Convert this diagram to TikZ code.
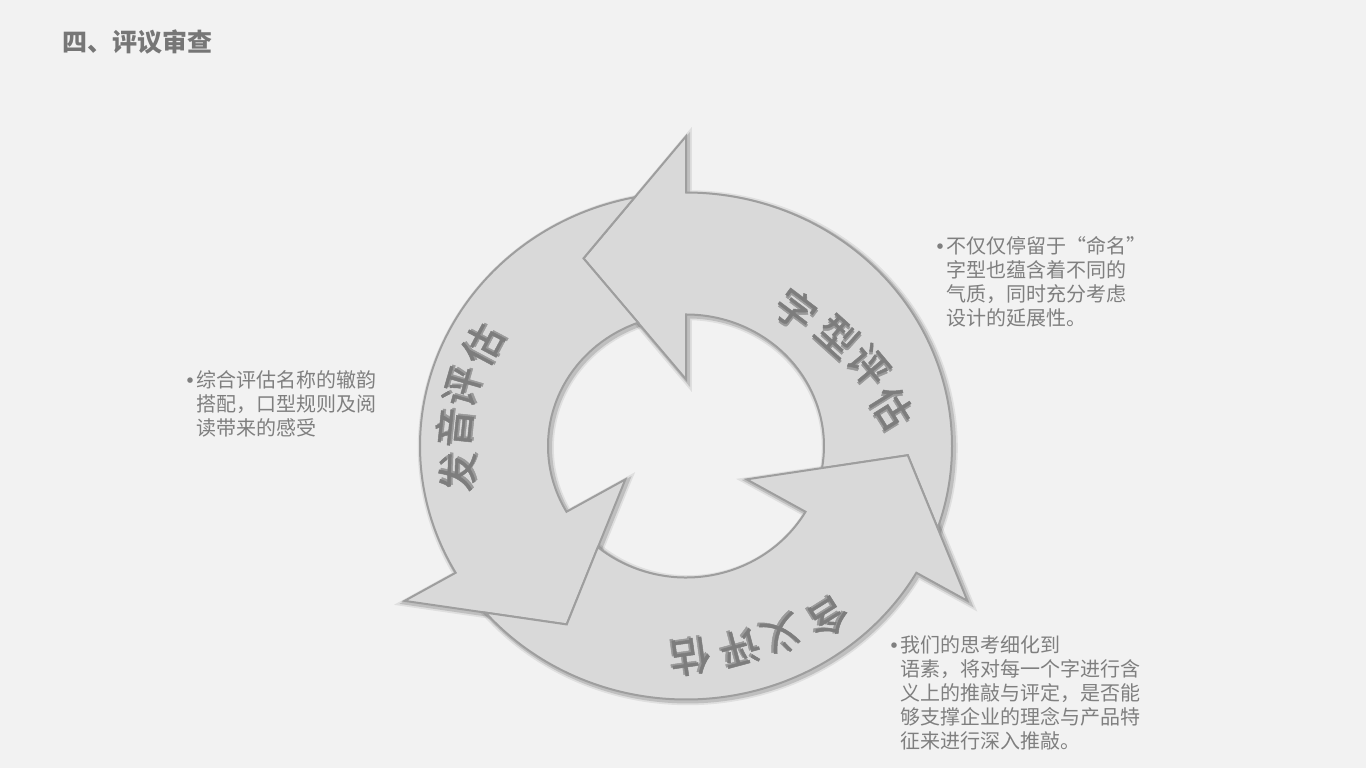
\documentclass[tikz,border=0pt]{standalone}
\usepackage{fontspec}
\setmainfont{Noto Sans CJK SC}
\newfontfamily\lblfont{Noto Sans CJK SC}[FakeBold=1.2]
\definecolor{bgc}{HTML}{F2F2F2}
\definecolor{afill}{HTML}{D9D9D9}
\definecolor{aline}{HTML}{9E9E9E}
\definecolor{txtc}{HTML}{7F7F7F}
\definecolor{titlec}{HTML}{767676}
\definecolor{lblc}{HTML}{7D7D7D}
\definecolor{shadc}{HTML}{9A9A9A}
\newcommand\drawringarrow[2]{%
  \path[#1] ({#2-108.9}:266pt) arc[start angle=#2-108.9, end angle=#2, radius=266pt]
    -- (#2:325pt) -- ({#2+27.5}:222pt) -- (#2:70pt) -- (#2:138pt)
    arc[start angle=#2, end angle=#2-99.7, radius=138pt]
    -- ({#2-92.5}:222pt) -- cycle;}
\newcommand\shchar[1]{\makebox[0pt][l]{\raisebox{-1.8pt}{\hspace{1.8pt}\textcolor{shadc}{#1}}}#1}
\newcommand\arclab[5]{%
  \node[lbl, rotate=#4] (#1) at (#2,-#3) {\shchar{#5}};}
\newcommand\bul{\leavevmode\llap{\makebox[12pt][c]{\raisebox{-3.5pt}{\fontsize{26pt}{26pt}\selectfont •}}}}
\tikzset{
  lbl/.style={inner sep=0pt, text=lblc, font=\lblfont\fontsize{40pt}{40pt}\selectfont},
  body/.style={inner sep=0pt, anchor=base west, text=txtc, font=\fontsize{20pt}{24pt}\selectfont},
  shapefill/.style={fill=afill, draw=aline, line width=2pt, line join=miter},
  glowA/.style={draw=black, opacity=0.08, line width=8pt, line join=miter},
  glowB/.style={draw=black, opacity=0.14, line width=4.5pt, line join=miter},
}
\begin{document}
\begin{tikzpicture}[x=1pt, y=1pt]
\fill[bgc] (0,0) rectangle (1366,-768);
\useasboundingbox (0,0) rectangle (1366,-768);

\node[anchor=base west, inner sep=0pt, text=titlec, font=\fontsize{25pt}{30pt}\selectfont\bfseries] (title) at (62,-52) {四、评议审查};

\begin{scope}[shift={(686,-446)}, yscale=0.953]
  \begin{scope}[shift={(1.8pt,-1.8pt)}]
    \drawringarrow{glowA}{90}
    \drawringarrow{glowA}{210}
    \drawringarrow{glowA}{330}
    \drawringarrow{glowB}{90}
    \drawringarrow{glowB}{210}
    \drawringarrow{glowB}{330}
  \end{scope}
  \drawringarrow{shapefill}{90}
  \drawringarrow{shapefill}{210}
  \drawringarrow{shapefill}{330}
\end{scope}

% labels on the arrows
\arclab{ta}{795}{310}{-37}{字}
\arclab{tb}{837}{336}{-42}{型}
\arclab{tc}{868}{366}{-50}{评}
\arclab{td}{891}{408}{-58}{估}

\arclab{la}{458}{472}{88}{发}
\arclab{lb}{455}{428}{84}{音}
\arclab{lc}{463}{387}{74}{评}
\arclab{ld}{483}{345}{62}{估}

\arclab{ba}{828}{617}{212}{含}
\arclab{bb}{782}{634}{202}{义}
\arclab{bc}{740}{647}{195}{评}
\arclab{bd}{690}{656}{188}{估}

% text blocks
\node[body] (t1) at (946,-253) {\parbox[t]{300pt}{\raggedright\bul 不仅仅停留于“命名”\\字型也蕴含着不同的\\气质，同时充分考虑\\设计的延展性。}};
\node[body] (t2) at (196,-387) {\parbox[t]{300pt}{\raggedright\bul 综合评估名称的辙韵\\搭配，口型规则及阅\\读带来的感受}};
\node[body] (t3) at (900,-652) {\parbox[t]{300pt}{\raggedright\bul 我们的思考细化到\\语素，将对每一个字进行含\\义上的推敲与评定，是否能\\够支撑企业的理念与产品特\\征来进行深入推敲。}};
\end{tikzpicture}
\end{document}
